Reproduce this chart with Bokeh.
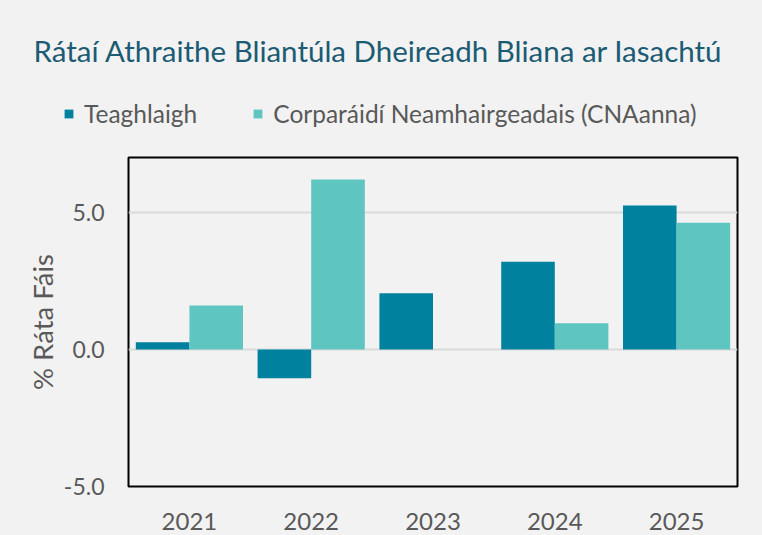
from bokeh.plotting import figure
from bokeh.layouts import column
from bokeh.models import (ColumnDataSource, FactorRange, Range1d, FixedTicker, Label,
                          Legend, LegendItem, NumeralTickFormatter)
from bokeh.transform import dodge
from bokeh.embed import file_html
from bokeh.resources import INLINE

years = ["2021", "2022", "2023", "2024", "2025"]
teaghlaigh = [0.26, -1.05, 2.05, 3.2, 5.25]
cna = [1.6, 6.2, 0.0, 0.95, 4.62]
series_names = ["Teaghlaigh", "Corparáidí Neamhairgeadais (CNAanna)"]
title_text = "Rátaí Athraithe Bliantúla Dheireadh Bliana ar Iasachtú"
y_label = "% Ráta Fáis"
y_ticks = [-5, 0, 5]

FONT = "Lato"
BG = "#f2f2f2"
TXT = "#595959"
C1 = "#00829e"
C2 = "#5fc5c1"
W = 762
HEAD_H = 149
TOTAL_H = 535

# ---- header (title + legend) ----
head = figure(width=W, height=HEAD_H, output_backend="svg", toolbar_location=None,
              x_range=Range1d(0, 1), y_range=Range1d(0, 1),
              x_axis_type=None, y_axis_type=None,
              min_border_left=0, min_border_right=0, min_border_top=0, min_border_bottom=0,
              background_fill_color=BG, border_fill_color=BG, outline_line_color=None)
head.frame_align = False
head.grid.visible = False
# zero-size swatch carriers for the legend
h1 = head.vbar(x=[0], top=[0], width=0, fill_color=C1, line_color=None)
h2 = head.vbar(x=[0], top=[0], width=0, fill_color=C2, line_color=None)

head.add_layout(Label(x=33, y=99, x_units="screen", y_units="screen", text=title_text,
                      text_font=FONT, text_font_size="29.5px", text_color="#1b5b73",
                      text_baseline="middle"))
legend = Legend(items=[LegendItem(label=series_names[0], renderers=[h1]),
                       LegendItem(label=series_names[1], renderers=[h2])],
                orientation="horizontal", location=(63, 21),
                glyph_width=11, glyph_height=11, label_standoff=10, spacing=55,
                label_height=24, padding=0, margin=0, border_line_color=None,
                background_fill_alpha=0, label_text_font=FONT,
                label_text_font_size="24.5px", label_text_color=TXT)
head.add_layout(legend, "center")

# ---- main chart ----
src = ColumnDataSource(dict(year=years, t=teaghlaigh, c=cna))

p = figure(x_range=FactorRange(*years), y_range=Range1d(-5, 7),
           width=W, height=TOTAL_H - HEAD_H, output_backend="svg", toolbar_location=None,
           min_border_left=128, min_border_right=W - 737, min_border_top=8,
           min_border_bottom=TOTAL_H - 486, background_fill_color=BG, border_fill_color=BG,
           outline_line_color="black", outline_line_width=2)
p.frame_align = False
p.x_range.range_padding = 0

p.vbar(x=dodge("year", -0.22, range=p.x_range), top="t", bottom=0, width=0.44,
       source=src, fill_color=C1, line_color=None)
p.vbar(x=dodge("year", 0.22, range=p.x_range), top="c", bottom=0, width=0.44,
       source=src, fill_color=C2, line_color=None)

p.xgrid.grid_line_color = None
p.ygrid.grid_line_color = "#d9d9d9"
p.ygrid.grid_line_width = 2
p.ygrid.level = "underlay"
p.yaxis.ticker = FixedTicker(ticks=y_ticks)
p.yaxis.formatter = NumeralTickFormatter(format="0.0")

for ax in (p.xaxis[0], p.yaxis[0]):
    ax.axis_line_color = None
    ax.major_tick_line_color = None
    ax.minor_tick_line_color = None
    ax.major_label_text_font = FONT
    ax.major_label_text_color = TXT
p.xaxis.major_label_text_font_size = "24px"
p.yaxis.major_label_text_font_size = "23px"
p.xaxis.major_label_standoff = 20
p.yaxis.major_label_standoff = 18
p.yaxis.axis_label = y_label
p.yaxis.axis_label_text_font = FONT
p.yaxis.axis_label_text_font_size = "27.5px"
p.yaxis.axis_label_text_font_style = "normal"
p.yaxis.axis_label_text_color = TXT
p.yaxis.axis_label_standoff = 2

layout = column(head, p, spacing=0, styles={"background-color": BG})
open("out.html", "w").write(file_html(layout, INLINE))
